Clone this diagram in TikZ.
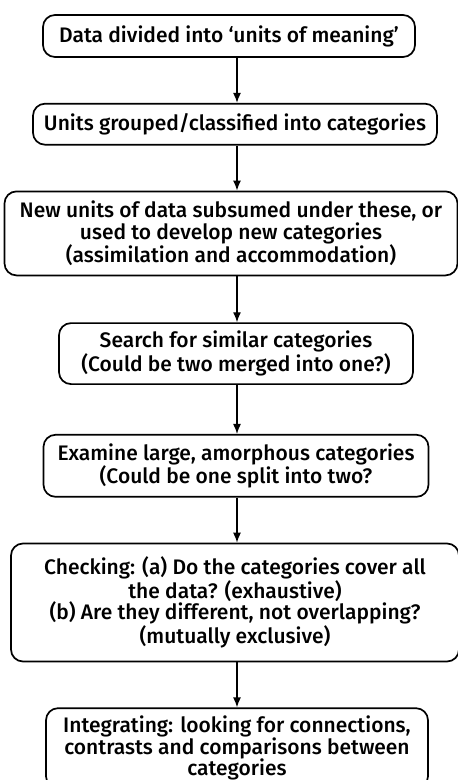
\documentclass[tikz,border=0pt]{standalone}
\usepackage{fontspec}
\setmainfont{Fira Sans}[BoldFont={Fira Sans Medium}]
\usetikzlibrary{positioning,arrows.meta}

\begin{document}
\begin{tikzpicture}[node distance=45pt]
\tikzstyle{stage}=[draw=black, line width=1.7pt, rounded corners=12pt, align=center, inner sep=0pt, font=\fontsize{21}{21.5}\selectfont\bfseries]
\tikzstyle{arr}=[line width=1.3pt, -{Latex[length=10pt,width=8pt]}]
\useasboundingbox (0,0) rectangle (458pt,-780pt);
\coordinate (spine) at (237pt,0);
\node[stage, minimum width=372pt, minimum height=42pt]  (units)    at (229pt,-36pt) {Data divided into ‘units of meaning’};
\node[stage, minimum width=404pt, minimum height=41pt]  (grouped)  [below=of units, xshift=6pt]   {Units grouped/classified into categories};
\node[stage, minimum width=453pt, minimum height=84pt]  (subsumed) [below=of grouped, xshift=-4pt] {New units of data subsumed under these, or\\ used to develop new categories\\ (assimilation and accommodation)};
\node[stage, minimum width=354pt, minimum height=61pt]  (similar)  [below=46pt of subsumed, xshift=5pt] {Search for similar categories\\ (Could be two merged into one?)};
\node[stage, minimum width=385pt, minimum height=62pt]  (examine)  [below=49pt of similar]  {Examine large, amorphous categories\\ (Could be one split into two?};
\node[stage, minimum width=448pt, minimum height=118pt] (checking) [below=of examine, xshift=-1pt] {Checking: (a) Do the categories cover all\\ the data? (exhaustive)\\ (b) Are they different, not overlapping?\\ (mutually exclusive)};
\node[stage, minimum width=382pt, minimum height=80pt]  (integrate) [below=of checking, xshift=2pt] {Integrating: looking for connections,\\ contrasts and comparisons between\\ categories};
\draw[arr] (spine |- units.south)    -- (spine |- grouped.north);
\draw[arr] (spine |- grouped.south)  -- (spine |- subsumed.north);
\draw[arr] (spine |- subsumed.south) -- (spine |- similar.north);
\draw[arr] (spine |- similar.south)  -- (spine |- examine.north);
\draw[arr] (spine |- examine.south)  -- (spine |- checking.north);
\draw[arr] (spine |- checking.south) -- (spine |- integrate.north);
\end{tikzpicture}
\end{document}
